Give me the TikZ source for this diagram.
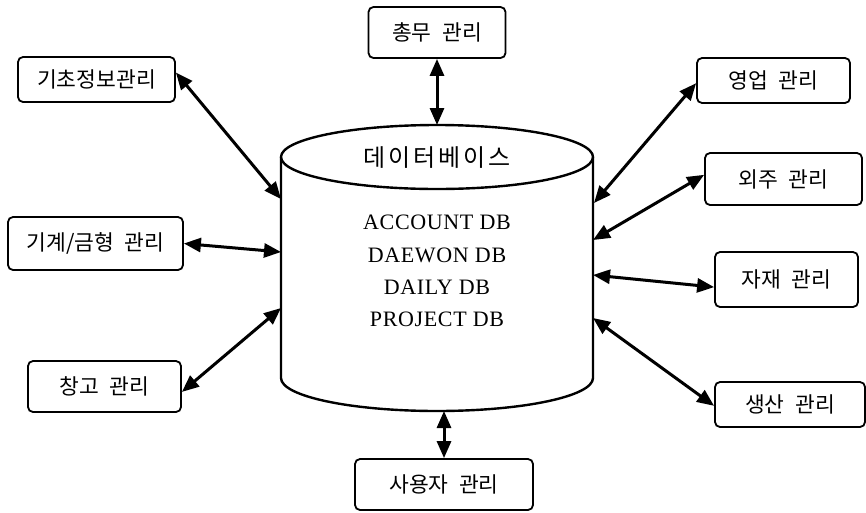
\documentclass[tikz,border=0pt]{standalone}
\usepackage{fontspec}
\setmainfont{Liberation Serif}
\newfontfamily\krfont[WordSpace=2.2]{Noto Sans CJK KR}
\usetikzlibrary{arrows.meta}

\begin{document}
\begin{tikzpicture}[x=1pt, y=-1pt,
    module/.style={draw, line width=1.8pt, rounded corners=5pt, inner sep=0pt,
      font=\krfont\fontsize{21.5}{24}\selectfont},
    link/.style={line width=3pt,
      {Triangle[length=17pt,width=14pt]}-{Triangle[length=17pt,width=14pt]}}]
  \useasboundingbox (0,0) rectangle (866,512);

  % database cylinder
  \draw[line width=2.4pt] (437,157) ellipse [x radius=156pt, y radius=32pt];
  \draw[line width=2.4pt] (281,157) -- (281,378)
    arc[start angle=180, end angle=360, x radius=156pt, y radius=33pt] -- (593,157);
  \node (dbtitle) at (437,158)
    {\krfont\addfontfeature{LetterSpace=12}\fontsize{24}{26}\selectfont 데이터베이스};
  \node[align=center, font=\addfontfeature{LetterSpace=3}\fontsize{22}{32.3}\selectfont] (dblist) at (437,271)
    {ACCOUNT DB\\ DAEWON DB\\ DAILY DB\\ PROJECT DB};

  \coordinate (db-top) at (437,125);
  \coordinate (db-bot) at (444,411);
  \coordinate (db-w1) at (281,199);
  \coordinate (db-w2) at (281,252);
  \coordinate (db-w3) at (281,308);
  \coordinate (db-e1) at (594,203);
  \coordinate (db-e2) at (593,240);
  \coordinate (db-e3) at (593,275);
  \coordinate (db-e4) at (593,318);

  % modules
  \node[module, minimum width=137pt, minimum height=51pt] (chongmu) at (437,32.5) {총무 관리};
  \node[module, minimum width=157pt, minimum height=45pt] (gicho) at (96.5,79.5) {기초정보관리};
  \node[module, minimum width=175pt, minimum height=53pt] (gigye) at (95.5,243.5) {기계/금형 관리};
  \node[module, minimum width=153pt, minimum height=51pt] (changgo) at (104.5,386.5) {창고 관리};
  \node[module, minimum width=153pt, minimum height=45pt] (yeongeop) at (773.5,80.5) {영업 관리};
  \node[module, minimum width=157pt, minimum height=52pt] (oeju) at (783.5,179) {외주 관리};
  \node[module, minimum width=143pt, minimum height=55pt] (jajae) at (786.5,279.5) {자재 관리};
  \node[module, minimum width=150pt, minimum height=45pt] (saengsan) at (790,404.5) {생산 관리};
  \node[module, minimum width=178pt, minimum height=51pt] (sayongja) at (444,484.5) {사용자 관리};

  % links
  \draw[link] (chongmu.south) -- (db-top);
  \draw[link] (gicho.5) -- (db-w1);
  \draw[link] (gigye.east) -- (db-w2);
  \draw[link] (changgo.-4) -- (db-w3);
  \draw[link] (yeongeop.182) -- (db-e1);
  \draw[link] (oeju.177) -- (db-e2);
  \draw[link] (jajae.186) -- (db-e3);
  \draw[link] (saengsan.181) -- (db-e4);
  \draw[link] (sayongja.north) -- (db-bot);
\end{tikzpicture}
\end{document}
